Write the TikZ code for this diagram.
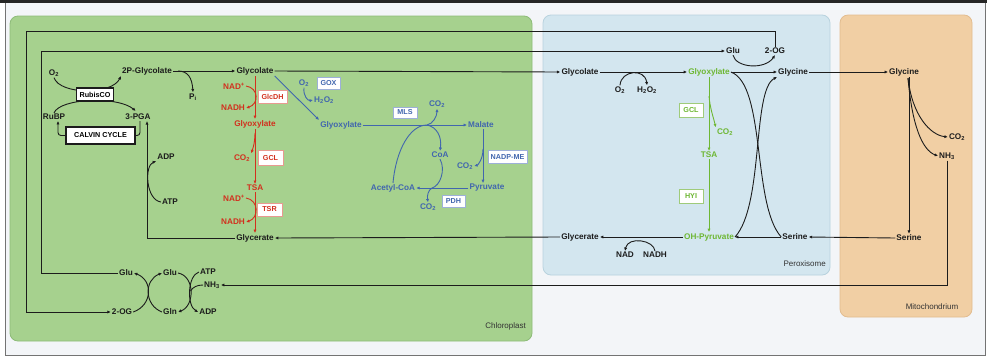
\documentclass[tikz,border=0pt]{standalone}
\usepackage{fontspec}
\setmainfont{Liberation Sans}
\usetikzlibrary{arrows.meta}

\definecolor{chlfill}{HTML}{A6D18E}
\definecolor{chledge}{HTML}{8DBB78}
\definecolor{perfill}{HTML}{D3E6EF}
\definecolor{peredge}{HTML}{B8D2DE}
\definecolor{mitfill}{HTML}{F1CFA4}
\definecolor{mitedge}{HTML}{E2BC8F}
\definecolor{bgcol}{HTML}{F3F5F8}
\definecolor{ink}{HTML}{1C1C1C}
\definecolor{myred}{HTML}{D2301E}
\definecolor{redbdr}{HTML}{E89A90}
\definecolor{myblue}{HTML}{4166AE}
\definecolor{bluebdr}{HTML}{9DB0D8}
\definecolor{mygreen}{HTML}{6DB733}
\definecolor{greenbdr}{HTML}{9FCB7A}

\newcommand{\lsub}[1]{\textsubscript{#1}}
\newcommand{\lsup}[1]{\textsuperscript{#1}}
\newcommand{\dgfont}{\fontsize{8.2}{9}\selectfont\bfseries}
\newcommand{\dgenz}{\fontsize{7.2}{8}\selectfont\bfseries}
\newcommand{\dgtag}{\fontsize{8}{9}\selectfont}

\tikzset{
  txt/.style={font=\dgfont, text=ink, inner sep=1pt},
  rtxt/.style={txt, text=myred},
  btxt/.style={txt, text=myblue},
  gtxt/.style={txt, text=mygreen},
  tag/.style={font=\dgtag, text=black!80, inner sep=1pt},
  enzbox/.style={draw, fill=white, font=\dgenz, inner sep=1pt, line width=0.6pt},
  rbox/.style={enzbox, draw=redbdr, text=myred},
  bluebox/.style={enzbox, draw=bluebdr, text=myblue},
  gbox/.style={enzbox, draw=greenbdr, text=mygreen},
  keybox/.style={draw=ink, fill=white, font=\fontsize{7.2}{8}\selectfont\bfseries, line width=1.1pt, inner sep=1pt},
  conn/.style={draw=ink, line width=0.9pt},
  arr/.style={conn, -{Latex[length=3.4pt,width=3.2pt]}},
  rline/.style={draw=myred, line width=0.9pt},
  rarr/.style={rline, -{Latex[length=3.4pt,width=3.2pt]}},
  bline/.style={draw=myblue, line width=0.9pt},
  barr/.style={bline, -{Latex[length=3.4pt,width=3.2pt]}},
  garr/.style={draw=mygreen, line width=0.9pt, -{Latex[length=3.4pt,width=3.2pt]}},
}

\begin{document}
\begin{tikzpicture}[x=1pt,y=-1pt]
\useasboundingbox (0,0) rectangle (987,357);

% frame
\fill[white] (0,0) rectangle (987,357);
\fill[bgcol] (5,3) rectangle (985,355);
\draw[line width=0.8pt, black!55] (5,3) -- (5,355) -- (985,355) -- (985,3);
\draw[line width=3pt, black!85] (0,1.5) -- (987,1.5);

% compartments
\draw[fill=chlfill, draw=chledge, rounded corners=8pt, line width=0.8pt] (10,16) rectangle (532,341);
\draw[fill=perfill, draw=peredge, rounded corners=8pt, line width=0.8pt] (543,15) rectangle (830,275);
\draw[fill=mitfill, draw=mitedge, rounded corners=8pt, line width=0.8pt] (840,15) rectangle (972,317);

\node[tag, anchor=east] (chl) at (527,326) {Chloroplast};
\node[tag, anchor=east] (per) at (827,264) {Peroxisome};
\node[tag] (mit) at (932,307) {Mitochondrium};

% ---------- chloroplast: photorespiration entry and Calvin cycle ----------
\node[txt] (o2a) at (54,73) {O\lsub{2}};
\node[txt] (pglyc) at (147,71) {2P-Glycolate};
\node[txt] (rubp) at (54,117) {RuBP};
\node[txt] (pga) at (138,117) {3-PGA};
\node[txt] (adp1) at (166,157) {ADP};
\node[txt] (atp1) at (170,202) {ATP};
\node[txt] (pi) at (193,97) {P\lsub{i}};
\node[txt] (glyc1) at (255,71) {Glycolate};
\node[txt] (glycer1) at (255,238) {Glycerate};

\draw[arr] (o2a.south) .. controls (60,95) and (112,95) .. (pglyc.south west);
\draw[arr, shorten >=3pt] (rubp.north) .. controls (60,98) and (118,96) .. (pga.north);
\node[keybox, minimum width=37pt, minimum height=13pt] (rubisco) at (95,94.5) {RubisCO};
\node[keybox, minimum width=69pt, minimum height=17pt] (calvin) at (100.5,135.5) {CALVIN CYCLE};

\draw[conn, rounded corners=3pt] (calvin.east) -| ([xshift=2pt]pga.south);
\draw[arr, rounded corners=3pt] (calvin.west) -| ([xshift=4pt]rubp.south);
\draw[arr] (glycer1.west) -| ([xshift=9pt]pga.south);
\draw[arr] (atp1.west) .. controls (146,200) and (144,166) .. (adp1.south west);

\draw[arr] (pglyc.east) -- (glyc1.west);
\coordinate (pij) at (178,71);
\draw[arr] (pij) .. controls (188,71) and (192,78) .. (pi.north);

% ---------- chloroplast: red bypass ----------
\node[rtxt] (nad1) at (234,86) {NAD\lsup{+}};
\node[rbox, minimum width=29pt, minimum height=13pt] (glcdh) at (272.5,96.5) {GlcDH};
\node[rtxt] (nadh1) at (233,108) {NADH};
\node[rtxt] (glyox1) at (255,124) {Glyoxylate};
\node[rtxt] (co2r) at (242,158) {CO\lsub{2}};
\node[rbox, minimum width=25pt, minimum height=15pt] (gcl1) at (270.5,158) {GCL};
\node[rtxt] (tsa1) at (255,188) {TSA};
\node[rtxt] (nad2) at (234,198) {NAD\lsup{+}};
\node[rbox, minimum width=25pt, minimum height=13pt] (tsr) at (269.5,209.5) {TSR};
\node[rtxt] (nadh2) at (233,222) {NADH};

\draw[rarr] (glyc1.south) -- (glyox1.north);
\draw[rarr] (nad1.east) .. controls (259,88) and (259,104) .. (nadh1.east);
\draw[rarr] (glyox1.south) -- (tsa1.north);
\coordinate (rj) at (255,133);
\draw[rarr] (rj) .. controls (255,144) and (252,151) .. (co2r.north east);
\draw[rarr] (tsa1.south) -- (glycer1.north);
\draw[rarr] (nad2.east) .. controls (259,200) and (259,218) .. (nadh2.east);

% ---------- chloroplast: blue bypass ----------
\node[btxt] (o2b) at (304,83) {O\lsub{2}};
\node[bluebox, minimum width=23pt, minimum height=12pt] (gox) at (328.5,83) {GOX};
\node[btxt] (h2o2b) at (324,100) {H\lsub{2}O\lsub{2}};
\node[btxt] (glyox2) at (341,125) {Glyoxylate};
\node[bluebox, minimum width=24pt, minimum height=11pt] (mls) at (405,112.5) {MLS};
\node[btxt] (co2b1) at (437,104) {CO\lsub{2}};
\node[btxt] (malate) at (481,125) {Malate};
\node[btxt] (coa) at (440,155) {CoA};
\node[bluebox, minimum width=39pt, minimum height=13pt] (nadpme) at (507.5,157) {NADP-ME};
\node[btxt] (co2b2) at (465,166) {CO\lsub{2}};
\node[btxt] (acoa) at (393,188) {Acetyl-CoA};
\node[btxt] (pyr) at (487,188) {Pyruvate};
\node[bluebox, minimum width=23pt, minimum height=12pt] (pdh) at (453.5,201) {PDH};
\node[btxt] (co2b3) at (428,207) {CO\lsub{2}};

\draw[barr] (glyc1.south east) -- (glyox2.north west);
\draw[barr] (o2b.south) .. controls (303,96) and (308,101) .. (h2o2b.west);
\draw[barr] (glyox2.east) -- (malate.west);
\coordinate (bj1) at (427,125);
\draw[barr] (bj1) .. controls (433,124) and (437,116) .. (co2b1.south);
\draw[barr] (bj1) .. controls (437,127) and (442,137) .. (coa.north);
\draw[bline] (acoa.north) .. controls (396,150) and (410,125) .. (bj1);
\draw[barr] ([xshift=2pt]malate.south) -- ([xshift=-4pt]pyr.north);
\coordinate (bj2) at (483,149);
\draw[barr] (bj2) .. controls (483,159) and (478,165) .. (co2b2.east);
\draw[barr] (pyr.west) -- (acoa.east);
\coordinate (bj3) at (432,188);
\draw[bline] (coa.south) .. controls (446,170) and (440,186) .. (bj3);
\draw[barr] (bj3) .. controls (428,190) and (427,196) .. (co2b3.north);

% ---------- chloroplast: ammonia refixation ----------
\node[txt] (glul) at (126,273) {Glu};
\node[txt] (glum) at (170,273) {Glu};
\node[txt] (atp2) at (208,272) {ATP};
\node[txt] (nh3c) at (212,285) {NH\lsub{3}};
\node[txt] (og1) at (122,312) {2-OG};
\node[txt] (gln) at (170,312) {Gln};
\node[txt] (adp2) at (208,312) {ADP};

\draw[arr] (og1.east) .. controls (153,305) and (153,280) .. (glul.east);
\draw[arr] (gln.west) .. controls (144,305) and (144,280) .. (glum.west);
\draw[arr] (glum.east) .. controls (195,276) and (195,306) .. (gln.east);
\draw[arr] (atp2.west) .. controls (187,276) and (187,306) .. (adp2.west);
\draw[conn] (nh3c.west) .. controls (197,285) and (193,287) .. (190.5,291);

% ---------- peroxisome ----------
\node[txt] (glyc2) at (580,72) {Glycolate};
\node[txt] (o2p) at (620,90) {O\lsub{2}};
\node[txt] (h2o2p) at (647,90) {H\lsub{2}O\lsub{2}};
\node[gtxt] (glyox3) at (709,72) {Glyoxylate};
\node[txt] (glup) at (733,51) {Glu};
\node[txt] (ogp) at (775,51) {2-OG};
\node[txt] (glyp) at (793,72) {Glycine};
\node[gbox, minimum width=24pt, minimum height=14pt] (gcl2) at (691,110) {GCL};
\node[gtxt] (co2g) at (725,132) {CO\lsub{2}};
\node[gtxt] (tsa2) at (709,155) {TSA};
\node[gbox, minimum width=24pt, minimum height=14pt] (hyi) at (691,196) {HYI};
\node[gtxt] (ohp) at (709,237) {OH-Pyruvate};
\node[txt] (serp) at (795,237) {Serine};
\node[txt] (glycer2) at (580,237) {Glycerate};
\node[txt] (nad) at (625,255) {NAD};
\node[txt] (nadh) at (655,255) {NADH};

\draw[arr] (glyc1.east) -- (glyc2.west);
\draw[arr] (glyc2.east) -- (glyox3.west);
\draw[arr] (o2p.north) .. controls (621,70) and (645,68) .. (h2o2p.north);
\draw[garr] (glyox3.south) -- (tsa2.north);
\coordinate (gj) at (709,96);
\draw[garr] (gj) .. controls (710,108) and (713,116) .. (co2g.north west);
\draw[garr] (tsa2.south) -- (ohp.north);
\draw[arr] (glup.south) .. controls (736,68) and (765,70) .. (ogp.south);
\draw[arr] (glyox3.east) -- (glyp.west);
\draw[conn] (glyox3.east) .. controls (766,85) and (752,205) .. (serp.west);
\draw[arr] (ohp.east) .. controls (764,205) and (752,90) .. (glyp.south west);
\draw[arr] (serp.west) -- (ohp.east);
\draw[arr] (ohp.west) -- (glycer2.east);
\draw[arr] (glycer2.west) -- (glycer1.east);
\draw[arr] (nadh.north) .. controls (654,240) and (628,236) .. (nad.north);

% ---------- mitochondrion ----------
\node[txt] (glym) at (904,72) {Glycine};
\node[txt] (co2m) at (957,137) {CO\lsub{2}};
\node[txt] (nh3m) at (947,156) {NH\lsub{3}};
\node[txt] (serm) at (909,238) {Serine};

\draw[arr] (glyp.east) -- (glym.west);
\draw[arr] (glym.south -| serm.north) -- (serm.north);
\coordinate (mj) at (908,78);
\draw[arr] (mj) .. controls (912,115) and (930,135) .. (co2m.west);
\draw[arr] (mj) .. controls (912,125) and (922,150) .. (nh3m.west);
\draw[arr] (serm.west) -- (serp.east);
\draw[arr] (nh3m.south) |- (nh3c.east);

% ---------- long-distance Glu / 2-OG exchange ----------
\coordinate (la) at (26,31);
\draw[arr] (ogp.north) |- (la) |- (og1.west);
\coordinate (lb) at (41,51);
\draw[arr] (glul.west) -| (lb) -- (glup.west);

\end{tikzpicture}
\end{document}
